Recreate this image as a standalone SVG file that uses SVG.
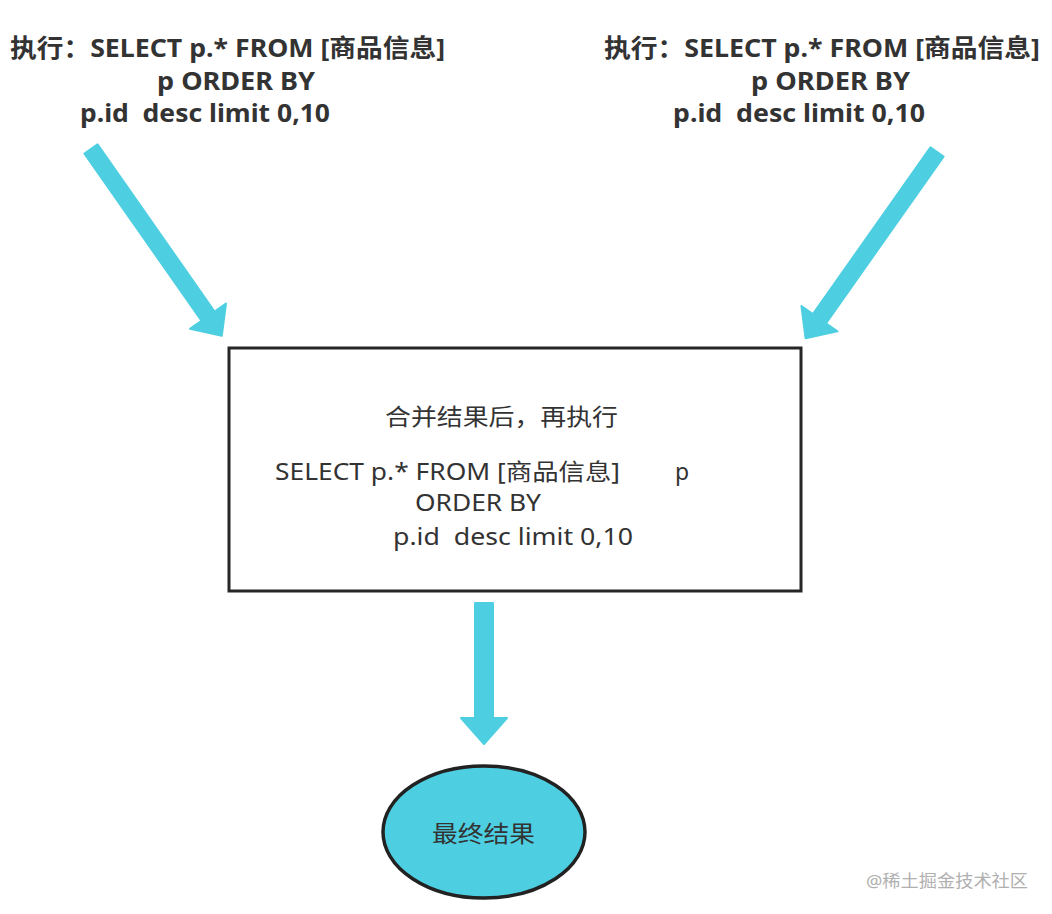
<svg xmlns="http://www.w3.org/2000/svg" xmlns:xlink="http://www.w3.org/1999/xlink" width="1052" height="914" viewBox="0 0 1052 914">
  <style>
    text { font-family: "Noto Sans", "Noto Sans CJK SC", sans-serif; fill: #333; white-space: pre; }
    .bold { font-weight: bold; font-size: 25px; }
    .reg { font-size: 23px; }
    .arrow { fill: #4dcfe1; stroke: #4dcfe1; stroke-width: 2; stroke-linejoin: round; }
    .wm { font-size: 17px; fill: #b0b0b0; }
  </style>
  <defs>
    <path id="diag" d="M0,-8 L204,-8 L204,-22 L228,0 L204,22 L204,8 L0,8 Z"/>
  </defs>
  <rect width="1052" height="914" fill="#ffffff"/>

  <g id="connectors">
    <use xlink:href="#diag" class="arrow" transform="translate(91,149) rotate(55)"/>
    <use xlink:href="#diag" class="arrow" transform="translate(937,152) rotate(125.2)"/>
    <path class="arrow" d="M475,603 L493,603 L493,718 L507,718 L484,744 L461,718 L475,718 Z"/>
  </g>

  <g id="label-left">
    <text class="bold" x="10" y="57" textLength="435" lengthAdjust="spacingAndGlyphs">执行：SELECT p.* FROM [商品信息]</text>
    <text class="bold" x="157" y="90" textLength="158" lengthAdjust="spacingAndGlyphs">p ORDER BY</text>
    <text class="bold" x="80" y="122" textLength="250" lengthAdjust="spacingAndGlyphs">p.id  desc limit 0,10</text>
  </g>

  <g id="label-right">
    <text class="bold" x="604" y="57" textLength="436" lengthAdjust="spacingAndGlyphs">执行：SELECT p.* FROM [商品信息]</text>
    <text class="bold" x="751" y="90" textLength="159" lengthAdjust="spacingAndGlyphs">p ORDER BY</text>
    <text class="bold" x="673" y="122" textLength="252" lengthAdjust="spacingAndGlyphs">p.id  desc limit 0,10</text>
  </g>

  <g id="merge-box">
    <rect x="229" y="348" width="572" height="243" fill="#ffffff" stroke="#262626" stroke-width="3"/>
    <text class="reg" x="385" y="425" textLength="233" lengthAdjust="spacingAndGlyphs">合并结果后，再执行</text>
    <text class="reg" x="275" y="480" textLength="345" lengthAdjust="spacingAndGlyphs">SELECT p.* FROM [商品信息]</text>
    <text class="reg" x="675" y="480">p</text>
    <text class="reg" x="415" y="511" textLength="126" lengthAdjust="spacingAndGlyphs">ORDER BY</text>
    <text class="reg" x="393" y="545" textLength="240" lengthAdjust="spacingAndGlyphs">p.id  desc limit 0,10</text>
  </g>

  <g id="final-result">
    <ellipse cx="484" cy="832" rx="101" ry="66" fill="#4dcfe1" stroke="#222" stroke-width="3.5"/>
    <text class="reg" x="432" y="842" textLength="103" lengthAdjust="spacingAndGlyphs">最终结果</text>
  </g>

  <text class="wm" x="866" y="887" textLength="162" lengthAdjust="spacingAndGlyphs">@稀土掘金技术社区</text>
</svg>
